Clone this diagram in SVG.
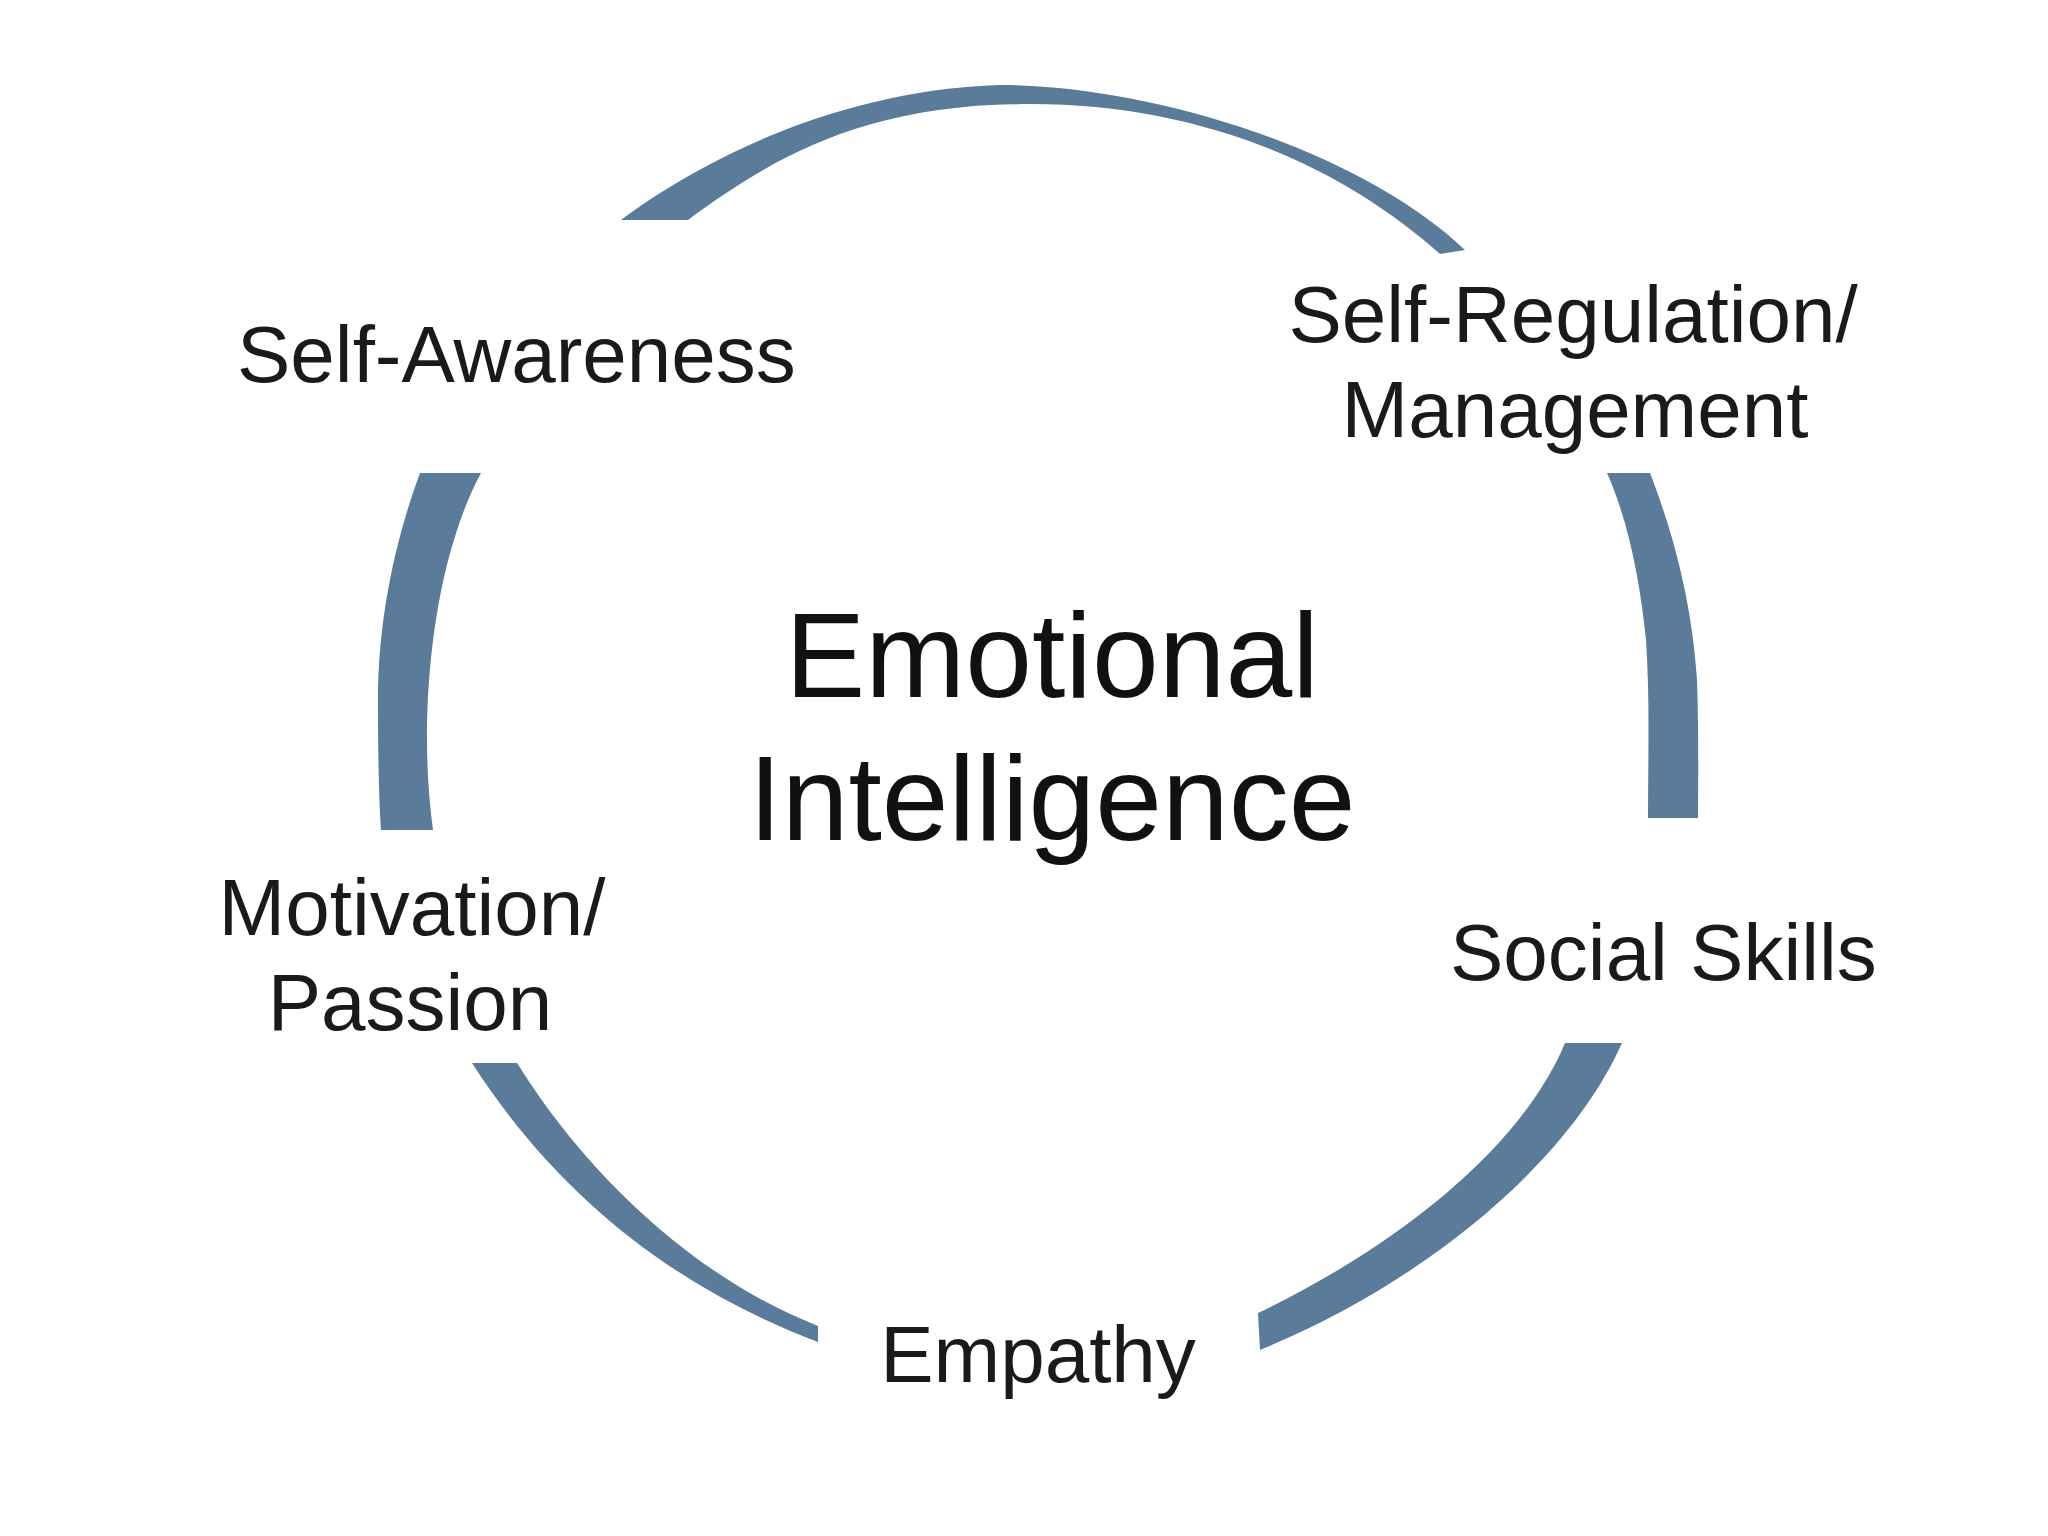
<svg xmlns="http://www.w3.org/2000/svg" width="2048" height="1536" viewBox="0 0 2048 1536">
<style>
.arc{fill:#5b7b9b}
.lbl{font-family:"Liberation Sans",Arial,Helvetica,sans-serif;font-size:80px;fill:#1a1a1a}
.title{font-family:"Liberation Sans",Arial,Helvetica,sans-serif;font-size:120px;fill:#111}
</style>
<rect width="2048" height="1536" fill="#ffffff"/>
<g id="connectors">
<path class="arc" d="M621,220 C690,168 830,90 1000,85 C1150,85 1360,150 1465,250 L1440,254 C1340,165 1200,104 1030,104 C860,104 770,160 688,220 Z"/>
<path class="arc" d="M1607,473 L1650,473 C1672,530 1692,600 1697,680 C1699,740 1698,790 1698,818 L1648,818 C1648,760 1650,700 1646,640 C1640,580 1628,520 1607,473 Z"/>
<path class="arc" d="M1565,1043 L1622,1043 C1570,1160 1430,1280 1260,1350 L1258,1313 C1410,1240 1525,1140 1565,1043 Z"/>
<path class="arc" d="M472,1063 L517,1063 C590,1180 700,1280 818,1326 L818,1342 C680,1290 560,1200 472,1063 Z"/>
<path class="arc" d="M420,473 L481,473 C445,540 427,640 427,740 C427,770 429,800 433,830 L381,830 C379,800 378,760 378,700 C378,620 395,540 420,473 Z"/>
</g>
<g id="center">
<text class="title" x="1052" y="697" text-anchor="middle">Emotional</text>
<text class="title" x="1052" y="840" text-anchor="middle">Intelligence</text>
</g>
<g id="self-awareness">
<text class="lbl" x="237" y="382">Self-Awareness</text>
</g>
<g id="self-regulation">
<text class="lbl" x="1573" y="342" text-anchor="middle">Self-Regulation/</text>
<text class="lbl" x="1575" y="437" text-anchor="middle">Management</text>
</g>
<g id="social-skills">
<text class="lbl" x="1450" y="980">Social Skills</text>
</g>
<g id="empathy">
<text class="lbl" x="1038" y="1382" text-anchor="middle">Empathy</text>
</g>
<g id="motivation">
<text class="lbl" x="412" y="935" text-anchor="middle">Motivation/</text>
<text class="lbl" x="410" y="1030" text-anchor="middle">Passion</text>
</g>
</svg>
